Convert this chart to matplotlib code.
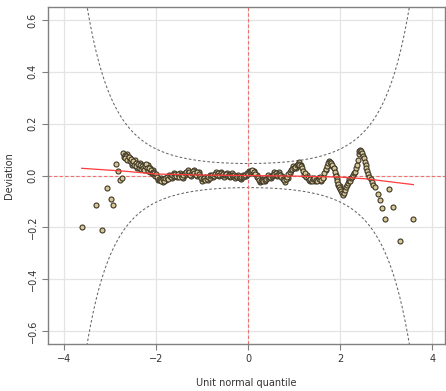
import matplotlib.pyplot as plt
import numpy as np
from math import erf, sqrt, pi

# detrended Q-Q (worm) points: unit normal quantile vs deviation
worm_x = [-3.62, -3.30, -3.17, -3.07, -2.98, -2.93, -2.87, -2.83, -2.78, -2.75,
          -2.72, -2.69, -2.66, -2.68, -2.63, -2.60, -2.58, -2.55, -2.53, -2.50,
          -2.48, -2.45, -2.43, -2.40, -2.38, -2.36, -2.33, -2.31, -2.29, -2.27,
          -2.25, -2.22, -2.20, -2.18, -2.16, -2.14, -2.12, -2.10, -2.08, -2.06,
          -2.04, -2.02, -2.00,
          -1.98, -1.95, -1.92, -1.89, -1.86, -1.83, -1.80, -1.77, -1.74, -1.71,
          -1.68, -1.65, -1.62, -1.59, -1.56, -1.53, -1.50, -1.47, -1.44, -1.41,
          -1.38, -1.35, -1.32, -1.29, -1.26, -1.23, -1.20, -1.17, -1.14, -1.11,
          -1.08, -1.05, -1.02, -0.99, -0.96, -0.93, -0.90, -0.87, -0.84, -0.81,
          -0.78, -0.75, -0.72, -0.69, -0.66, -0.63, -0.60, -0.57, -0.54, -0.51,
          -0.48, -0.45, -0.42, -0.39, -0.36, -0.33, -0.30, -0.27, -0.24, -0.21,
          -0.18, -0.15, -0.12, -0.09, -0.06, -0.03, 0.00,
          0.03, 0.06, 0.09, 0.12, 0.15, 0.18, 0.21, 0.24, 0.27, 0.30,
          0.33, 0.36, 0.39, 0.42, 0.45, 0.48, 0.51, 0.54, 0.57, 0.60,
          0.63, 0.66, 0.69, 0.72, 0.75, 0.78, 0.81, 0.84, 0.87, 0.90,
          0.93, 0.96, 0.99, 1.02, 1.05, 1.08, 1.11, 1.14, 1.17, 1.20,
          1.23, 1.26, 1.29, 1.32, 1.35, 1.38, 1.41, 1.44, 1.47, 1.50,
          1.53, 1.56, 1.59, 1.62, 1.65, 1.68, 1.71, 1.74, 1.77, 1.80,
          1.83, 1.86, 1.88, 1.90, 1.92, 1.94, 1.96, 1.98, 2.00, 2.02,
          2.04, 2.06, 2.08, 2.10, 2.12, 2.14, 2.16, 2.18, 2.20, 2.22,
          2.24, 2.26, 2.28, 2.30, 2.33, 2.35, 2.37, 2.39, 2.40, 2.41,
          2.43, 2.45, 2.47, 2.49, 2.51, 2.53, 2.55, 2.57, 2.59, 2.61,
          2.63, 2.66, 2.69, 2.72, 2.76, 2.82, 2.86, 2.91, 2.98, 3.05,
          3.15, 3.30, 3.59]
worm_y = [-0.200, -0.113, -0.210, -0.049, -0.092, -0.112, 0.045, 0.019, -0.019, -0.010,
          0.087, 0.080, 0.075, 0.066, 0.060, 0.070, 0.055, 0.062, 0.048, 0.055,
          0.040, 0.050, 0.035, 0.045, 0.030, 0.040, 0.025, 0.038, 0.028, 0.020,
          0.035, 0.045, 0.030, 0.018, 0.028, 0.012, 0.020, 0.008, 0.015, 0.005,
          0.010, 0.000, 0.005,
          -0.005, -0.012, -0.018, -0.022, -0.015, -0.020, -0.010, -0.005, -0.012, 0.000,
          -0.005, 0.004, -0.002, 0.005, 0.000, 0.006, -0.004, 0.002, -0.006, 0.004,
          0.010, 0.014, 0.008, 0.012, 0.004, 0.010, 0.016, 0.010, 0.004, 0.012,
          0.006, -0.002, -0.008, -0.014, -0.010, -0.018, -0.012, -0.006, -0.010, -0.002,
          0.004, 0.000, 0.006, 0.002, 0.008, 0.004, 0.008, 0.003, 0.006, 0.002,
          0.005, 0.000, 0.004, 0.000, 0.003, -0.002, 0.002, -0.003, -0.006, -0.004,
          -0.008, -0.004, -0.006, 0.000, 0.004, 0.010, 0.006,
          0.012, 0.018, 0.020, 0.014, 0.006, -0.004, -0.010, -0.016, -0.020, -0.018,
          -0.022, -0.016, -0.012, -0.008, -0.004, -0.006, 0.000, 0.004, 0.006, 0.008,
          0.004, 0.006, 0.002, -0.006, -0.014, -0.018, -0.012, -0.004, 0.006, 0.014,
          0.020, 0.026, 0.030, 0.034, 0.040, 0.044, 0.042, 0.036, 0.028, 0.018,
          0.008, -0.004, -0.010, -0.016, -0.012, -0.020, -0.014, -0.008, -0.016, -0.020,
          -0.014, -0.006, -0.016, -0.010, 0.008, 0.024, 0.038, 0.048, 0.052, 0.050,
          0.042, 0.028, 0.012, 0.000, -0.012, -0.022, -0.034, -0.044, -0.052, -0.060,
          -0.068, -0.074, -0.066, -0.055, -0.045, -0.036, -0.028, -0.020, -0.014, -0.022,
          -0.010, -0.004, 0.004, 0.008, 0.014, 0.030, 0.040, 0.060, 0.085, 0.096,
          0.100, 0.094, 0.086, 0.076, 0.066, 0.054, 0.042, 0.030, 0.018, 0.006,
          -0.004, -0.014, -0.024, -0.036, -0.045, -0.073, -0.096, -0.124, -0.168, -0.050,
          -0.122, -0.253, -0.169]

# second strand of overlapping points that thickens the worm
strand_x = [-2.70, -2.64, -2.57, -2.52, -2.46, -2.41, -2.35, -2.28, -2.23, -2.19,
            -2.13, -2.07,
            -1.965, -1.905, -1.845, -1.785, -1.725, -1.665, -1.605, -1.545, -1.485, -1.425,
            -1.365, -1.305, -1.245, -1.185, -1.125, -1.065, -1.005, -0.945, -0.885, -0.825,
            -0.765, -0.705, -0.645, -0.585, -0.525, -0.465, -0.405, -0.345, -0.285, -0.225,
            -0.165, -0.105, -0.045, 0.015, 0.075, 0.135, 0.195, 0.255, 0.315, 0.375,
            0.435, 0.495, 0.555, 0.615, 0.675, 0.735, 0.795, 0.855, 0.915, 0.975,
            1.035, 1.095, 1.155, 1.215, 1.275, 1.335, 1.395, 1.455, 1.515, 1.575,
            1.635, 1.695, 1.755, 1.815, 1.87, 1.91, 1.95, 1.99, 2.03]
strand_y = [0.072, 0.082, 0.068, 0.040, 0.060, 0.028, 0.050, 0.040, 0.024, 0.040,
            0.030, 0.022,
            -0.018, -0.010, -0.026, -0.016, 0.004, -0.008, 0.010, -0.006, 0.008, -0.010,
            0.004, 0.020, -0.002, 0.022, 0.000, 0.012, -0.020, -0.006, -0.018, 0.002,
            -0.006, 0.012, -0.002, 0.014, -0.004, 0.010, -0.006, 0.008, -0.008, 0.002,
            -0.014, 0.004, -0.002, 0.016, 0.010, 0.018, 0.002, -0.026, -0.012, -0.022,
            0.002, -0.010, 0.012, -0.002, 0.012, -0.002, -0.024, -0.008, 0.008, 0.036,
            0.028, 0.052, 0.040, 0.004, 0.002, -0.022, -0.008, -0.020, -0.008, -0.020,
            -0.008, 0.022, 0.058, 0.038, 0.028, 0.002, -0.036, -0.040, -0.056]

# fitted curve
fit_x = [-3.62, -2.7, -2.0, -1.0, 0.0, 1.0, 2.0, 2.58, 3.59]
fit_y = [0.028, 0.017, 0.006, 0.002, 0.0, -0.002, -0.006, -0.013, -0.035]

n_obs = 2800  # sample size behind the 95% bands
z_level = 1.96


def pnorm(v):
    return 0.5 * (1 + erf(v / sqrt(2)))


def dnorm(v):
    return np.exp(-v * v / 2) / sqrt(2 * pi)


fig = plt.figure(figsize=(4.46, 3.91), dpi=100)
ax = fig.add_axes([0.108, 0.12, 0.89, 0.862])

ax.set_xlim(-4.35, 4.28)
ax.set_ylim(-0.65, 0.65)
ax.set_xticks([-4, -2, 0, 2, 4])
ax.set_yticks([-0.6, -0.4, -0.2, 0.0, 0.2, 0.4, 0.6])
ax.grid(True, color="#e4e4e4", lw=0.9)
ax.set_axisbelow(True)

# confidence bands
grid = np.linspace(-4.3, 4.3, 600)
p = np.array([pnorm(g) for g in grid])
band = z_level * np.sqrt(p * (1 - p) / n_obs) / dnorm(grid)
ax.plot(grid, band, color="#666666", lw=0.75, ls=(0, (2.5, 2)))
ax.plot(grid, -band, color="#666666", lw=0.75, ls=(0, (2.5, 2)))

ax.axhline(0, color="#f07070", lw=0.8, ls=(0, (3, 2)))
ax.axvline(0, color="#f07070", lw=0.8, ls=(0, (3, 2)))

ax.plot(strand_x, strand_y, "o", ms=3.6, mfc="#d8c897", mec="#3d3626", mew=0.8)
ax.plot(worm_x, worm_y, "o", ms=3.6, mfc="#d8c897", mec="#3d3626", mew=0.8)
ax.plot(fit_x, fit_y, color="#ff3b3b", lw=0.9)

for s in ax.spines.values():
    s.set_color("#808080")
    s.set_linewidth(1.0)
ax.tick_params(colors="#808080", labelcolor="#333333", labelsize=7, length=4, width=0.8)
for lab in ax.get_yticklabels():
    lab.set_rotation(90)
    lab.set_va("center")

ax.set_xlabel("Unit normal quantile", fontsize=7, color="#333333", labelpad=10)
ax.set_ylabel("Deviation", fontsize=7, color="#333333", labelpad=10)

fig.savefig("out.png", dpi=100)
